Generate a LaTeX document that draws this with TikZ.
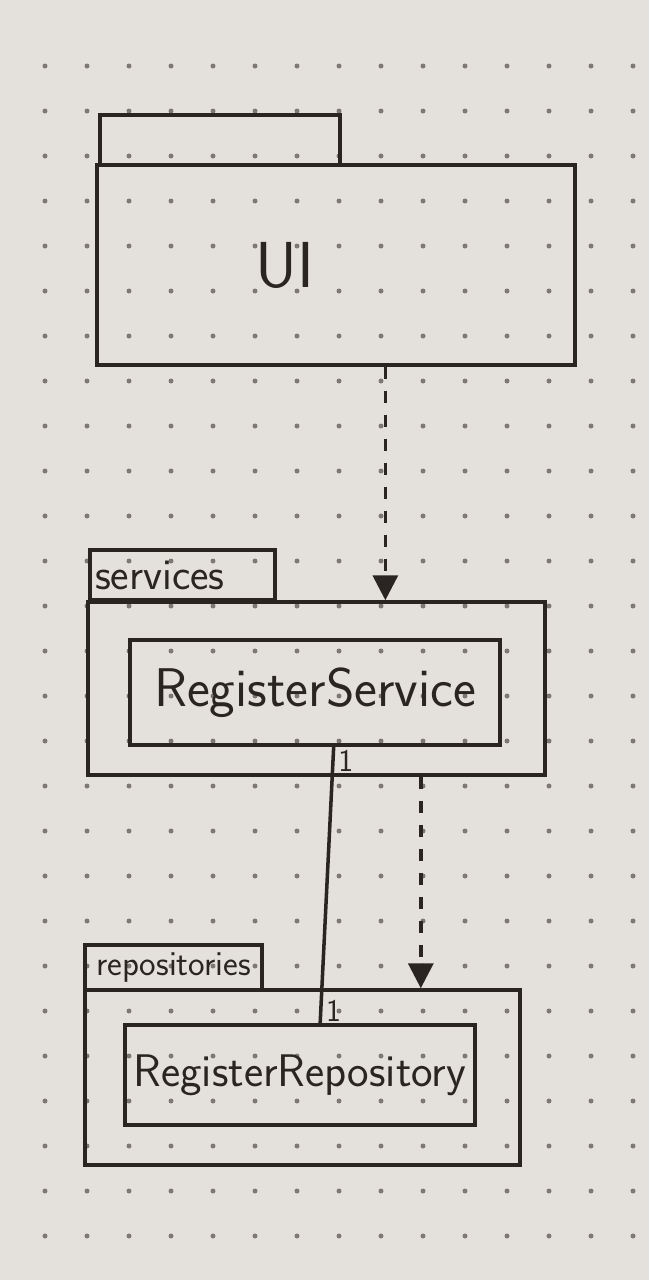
\documentclass[tikz,border=0pt]{standalone}
\usepackage{fontspec}
\usetikzlibrary{arrows.meta,calc}
\definecolor{paper}{HTML}{E4E1DD}
\definecolor{ink}{HTML}{2A2522}
\definecolor{dotgrey}{HTML}{7E7975}
\begin{document}
\begin{tikzpicture}
        \tikzstyle{pkgtab}=[draw=ink,line width=2pt,inner sep=0pt,text=ink,font=\sffamily\fontsize{20}{20}\selectfont]
        \tikzstyle{pkgbody}=[draw=ink,line width=2pt,inner sep=0pt]
        \tikzstyle{klass}=[draw=ink,line width=2pt,inner sep=0pt,text=ink,font=\sffamily\fontsize{26}{26}\selectfont]
        \tikzstyle{dep}=[draw=ink,line width=2pt,dash pattern=on 0.24cm off 0.24cm,-{Triangle[length=0.5cm,width=0.5cm]}]
        \tikzstyle{assoc}=[draw=ink,line width=2pt]
        \tikzstyle{mult}=[text=ink,inner sep=2pt,font=\sffamily\fontsize{18}{18}\selectfont]
        % paper
        \fill[paper] (0,0) rectangle (12.98,-25.6);
        \useasboundingbox (0,0) rectangle (12.98,-25.6);
        \foreach \i in {0,...,14}
          \foreach \j in {0,...,26}
            \fill[dotgrey] (0.9+\i*0.84,-1.32-\j*0.9) circle (0.05);
       \begin{scope}
         % ui package
         \node [pkgtab,minimum width=4.8cm,minimum height=1.0cm] (uitab) at (4.4,-2.8) {};
         \node [pkgbody,minimum width=9.56cm,minimum height=4.0cm] (uibody) at (6.72,-5.3) {};
         \node [text=ink,font=\sffamily\fontsize{37}{37}\selectfont] (uilabel) at (5.7,-5.3) {UI};
         % services package
         \node [pkgtab,minimum width=3.7cm,minimum height=1.0cm,font=\sffamily\fontsize{25}{25}\selectfont,text width=3.5cm,align=left] (svctab) at (3.65,-11.5) {services};
         \node [pkgbody,minimum width=9.14cm,minimum height=3.46cm] (svcbody) at (6.33,-13.77) {};
         \node [klass,minimum width=7.4cm,minimum height=2.1cm,font=\sffamily\fontsize{31}{31}\selectfont] (regsvc) at (6.3,-13.85) {RegisterService};
         % repositories package
         \node [pkgtab,minimum width=3.54cm,minimum height=0.9cm] (repotab) at (3.47,-19.35) {repositories};
         \node [pkgbody,minimum width=8.7cm,minimum height=3.5cm] (repobody) at (6.05,-21.55) {};
         \node [klass,minimum width=7.0cm,minimum height=2.0cm] (regrepo) at (6.0,-21.5) {RegisterRepository};
         % connectors
         \coordinate (uiout) at ($(uibody.south west)!0.6025!(uibody.south east)$);
         \coordinate (svcout) at ($(svcbody.south west)!0.7265!(svcbody.south east)$);
         \path[dep] (uiout) -- (uiout |- svcbody.north);
         \path[dep] (svcout) -- (svcout |- repobody.north);
         \path[assoc] ($(regsvc.south west)!0.55!(regsvc.south east)$) edge node[mult,pos=0.05,right] {1} node[mult,pos=0.955,right] {1} ($(regrepo.north west)!0.557!(regrepo.north east)$);
        \end{scope}
      \end{tikzpicture}
\end{document}
